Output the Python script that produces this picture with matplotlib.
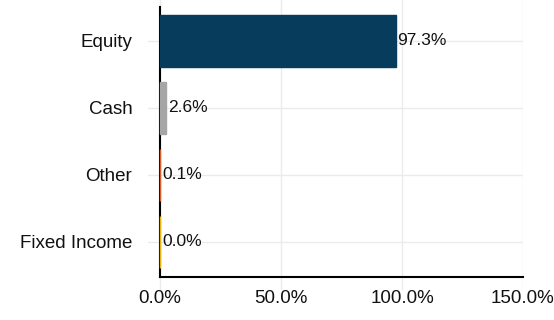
import matplotlib
matplotlib.use("Agg")
from matplotlib import pyplot as plt

plt.rcParams["font.family"] = ["Liberation Sans", "DejaVu Sans"]

categories = ["Equity", "Cash", "Other", "Fixed Income"]
values = [97.3, 2.6, 0.1, 0.0]
colors = ["#073c5c", "#a6a6a6", "#e05a2a", "#e8b10c"]
xticks = [0, 50, 100, 150]

fig = plt.figure(figsize=(5.54, 3.2), dpi=100)
ax = fig.add_axes([148 / 554, 30 / 320, 375 / 554, 290 / 320])

pos = list(range(len(categories)))[::-1]
# thin edge keeps near-zero bars visible next to the axis line
ax.barh(pos, values, height=0.78, color=colors, edgecolor=colors, linewidth=1.0, zorder=6)

for p, v in zip(pos, values):
    ax.annotate("%.1f%%" % v, (v, p), xytext=(1.5, 0), textcoords="offset points",
                va="center", ha="left", fontsize=12.5, color="#111111", zorder=7)

ax.set_xlim(-5, 150)
ax.set_ylim(-0.72, 3.61)
ax.set_xticks(xticks)
ax.set_xticklabels(["%.1f%%" % t for t in xticks])
ax.set_yticks(pos)
ax.set_yticklabels(categories)

ax.grid(True, color="#ebebeb", linewidth=1, zorder=0)
ax.tick_params(axis="both", length=0, labelsize=13.5, colors="#111111")
ax.tick_params(axis="y", pad=20)
ax.tick_params(axis="x", pad=10)

for s in ["top", "right"]:
    ax.spines[s].set_visible(False)
ax.spines["left"].set_position(("data", 0))
ax.spines["left"].set_bounds(-0.52, 3.51)
ax.spines["left"].set_linewidth(1.5)
ax.spines["left"].set_zorder(5)
ax.spines["bottom"].set_position(("data", -0.52))
ax.spines["bottom"].set_bounds(0, 150)
ax.spines["bottom"].set_linewidth(1.5)

fig.savefig("out.png", dpi=100)
